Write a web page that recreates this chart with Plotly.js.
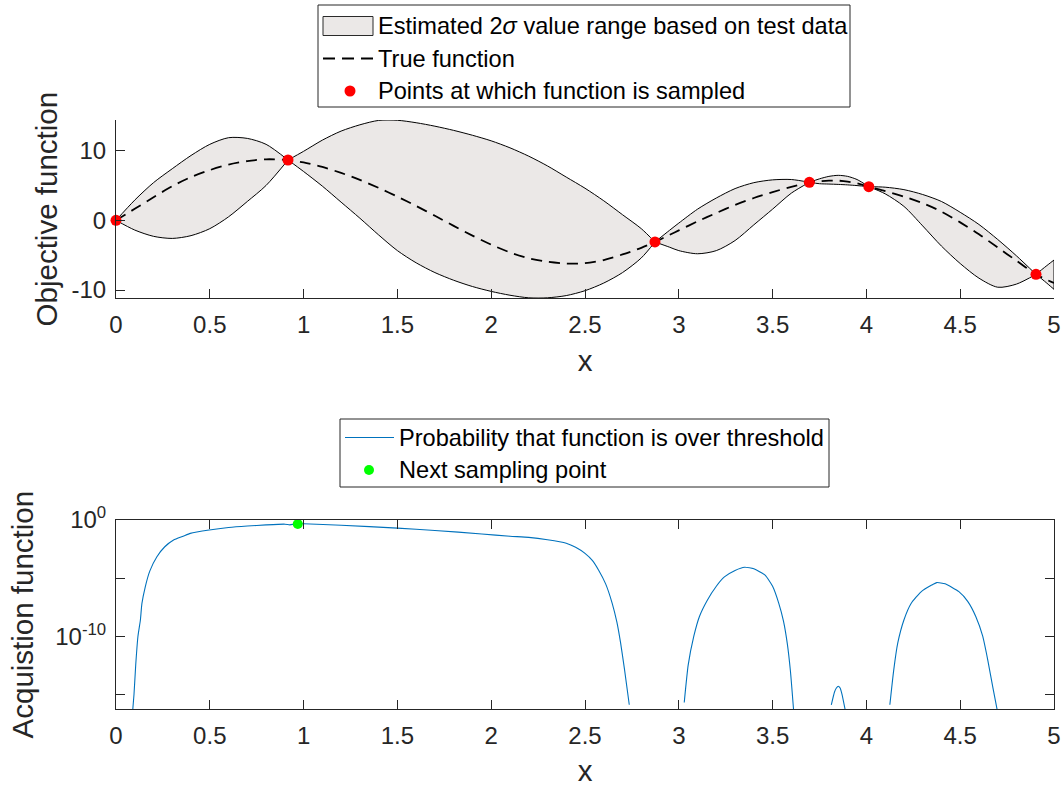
<!DOCTYPE html>
<html><head><meta charset="utf-8">
<script src="https://cdn.plot.ly/plotly-3.0.1.min.js"></script>
<style>html,body{margin:0;padding:0;background:#fff}#chart{width:1063px;height:787px}</style>
</head><body><div id="chart"></div>
<script>
// ---- top panel data ----
const sampleX = [0, 0.917, 2.873, 3.696, 4.013, 4.904];
const sampleY = [0, 8.65, -3.11, 5.45, 4.82, -7.75];

const bandX = [0, 0.1, 0.2, 0.3, 0.4, 0.5, 0.6, 0.7, 0.8, 0.917,
  1.0, 1.1, 1.2, 1.3, 1.4, 1.5, 1.6, 1.7, 1.8, 1.9, 2.0, 2.1, 2.2, 2.3, 2.4, 2.5, 2.6, 2.7, 2.8, 2.873,
  2.95, 3.0, 3.1, 3.2, 3.3, 3.4, 3.5, 3.6, 3.696,
  3.75, 3.8, 3.85, 3.9, 3.95, 4.013,
  4.1, 4.2, 4.3, 4.4, 4.5, 4.6, 4.7, 4.8, 4.904,
  4.95, 5.0];
const bandUpper = [0, 2.9, 5.4, 7.4, 9.3, 10.9, 11.85, 11.75, 10.9, 8.65,
  9.9, 11.5, 12.8, 13.7, 14.33, 14.35, 14.0, 13.5, 12.9, 12.2, 11.4, 10.4, 9.2, 7.8, 6.2, 4.6, 2.8, 0.8, -1.2, -3.11,
  -1.45, -0.4, 1.6, 3.2, 4.55, 5.4, 5.8, 5.85, 5.45,
  5.95, 6.3, 6.45, 6.3, 5.85, 4.82,
  4.75, 4.4, 3.7, 2.7, 1.15, -0.6, -2.75, -5.1, -7.75,
  -6.75, -5.7];
const bandLower = [0, -1.4, -2.3, -2.6, -2.2, -1.2, 0.5, 2.7, 5.0, 8.65,
  7.0, 4.9, 2.6, 0.3, -2.1, -4.35, -6.1, -7.5, -8.6, -9.5, -10.2, -10.75, -11.12, -11.12, -10.8, -10.1, -9.0, -7.5, -5.4, -3.11,
  -3.85, -4.35, -4.8, -4.35, -2.9, -0.65, 1.6, 3.9, 5.45,
  5.25, 5.2, 5.15, 5.08, 4.98, 4.82,
  3.8, 2.0, -0.8, -3.7, -6.2, -8.3, -9.6, -9.15, -7.75,
  -8.75, -9.9];
const trueY = [0, 1.65, 3.3, 4.9, 6.2, 7.2, 8.0, 8.5, 8.75, 8.65,
  8.3, 7.65, 6.8, 5.8, 4.65, 3.4, 2.05, 0.65, -0.8, -2.2, -3.5, -4.6, -5.45, -5.95, -6.2, -6.15, -5.7, -4.9, -3.95, -3.11,
  -2.1, -1.45, -0.15, 1.05, 2.2, 3.2, 4.05, 4.8, 5.45,
  5.6, 5.68, 5.69, 5.55, 5.3, 4.82,
  4.2, 3.4, 2.45, 1.25, -0.3, -2.0, -3.9, -5.8, -7.75,
  -8.4, -9.0];

// ---- bottom panel data (null = gap where the probability is zero) ----
const acqX = [0.086, 0.096, 0.105, 0.117, 0.13, 0.138, 0.156, 0.18, 0.218, 0.26, 0.307, 0.358, 0.396, 0.497,
  0.6, 0.7, 0.8, 0.9, 0.927, 0.95, 0.969, 1.0, 1.2, 1.5, 1.7, 1.95, 2.1, 2.2, 2.3, 2.4, 2.45, 2.5, 2.54, 2.572,
  2.61, 2.645, 2.67, 2.69, 2.71, 2.736, null,
  3.029, 3.05, 3.08, 3.11, 3.152, 3.2, 3.243, 3.3, 3.351, 3.4, 3.46, 3.5, 3.533, 3.558, 3.578, 3.595, 3.615, null,
  3.813, 3.83, 3.84, 3.85, 3.86, 3.87, 3.895, null,
  4.125, 4.145, 4.167, 4.2, 4.239, 4.29, 4.348, 4.375, 4.42, 4.493, 4.54, 4.583, 4.62, 4.647, 4.675, 4.705];
const acqY = [1e-17, 1e-15, 3.2e-13, 1e-10, 2.5e-9, 6.3e-8, 1.8e-6, 4e-5, 6.9e-4, 5e-3, 0.019, 0.04, 0.071, 0.138,
  0.224, 0.302, 0.38, 0.437, 0.38, 0.437, 0.468, 0.479, 0.355, 0.2, 0.126, 0.063, 0.04, 0.032, 0.02, 0.01, 4.5e-3, 1.35e-3, 3.2e-4, 5e-5,
  3.2e-6, 6.8e-8, 1.6e-9, 2.5e-11, 1.6e-13, 1.26e-16, null,
  2e-16, 3.2e-13, 1e-10, 5e-9, 1.26e-7, 2e-6, 1.26e-5, 4.5e-5, 8.5e-5, 6.3e-5, 1.8e-5, 2e-6, 6.8e-8, 2e-9, 2.5e-11, 1e-13, 1e-17, null,
  1.26e-16, 1.6e-15, 3.5e-15, 5e-15, 3.5e-15, 1e-15, 1e-17, null,
  1.26e-16, 1e-13, 2.5e-11, 2.5e-9, 6.8e-8, 6.3e-7, 2.5e-6, 4.1e-6, 3.2e-6, 6.8e-7, 1e-7, 5e-9, 1e-10, 8.9e-13, 3.2e-15, 1e-17];
const nextX = [0.969];
const nextY = [0.457];

const yTickVals = [-10, 0, 10];
const yTickText = ['-10', '0', '10'];
const xTickVals = [0, 0.5, 1, 1.5, 2, 2.5, 3, 3.5, 4, 4.5, 5];
const xTickText = ['0', '0.5', '1', '1.5', '2', '2.5', '3', '3.5', '4', '4.5', '5'];
const logTickVals = [1e-10, 1];
const logTickText = ['10<sup>-10</sup>', '10<sup>0</sup>'];
const logMinorVals = [1e-15, 1e-5];

const legendTop = ['Estimated 2<i>σ</i> value range based on test data', 'True function', 'Points at which function is sampled'];
const legendBottom = ['Probability that function is over threshold', 'Next sampling point'];

// ---- styles ----
const FONT = 'Liberation Sans, Arial, Helvetica, sans-serif';
const AX = '#262626';
const FILL = '#ebe8e7';
const BLUE = '#0072BD';

const traces = [];
// band: one lens per interval between sampled points
for (let s = 0; s < sampleX.length; s++) {
  const x0 = sampleX[s];
  const x1 = s + 1 < sampleX.length ? sampleX[s + 1] : Infinity;
  const idx = [];
  bandX.forEach((x, i) => { if (x >= x0 - 1e-9 && x <= x1 + 1e-9) idx.push(i); });
  if (idx.length < 2) continue;
  const xs = idx.map(i => bandX[i]);
  traces.push({x: xs, y: idx.map(i => bandLower[i]), xaxis: 'x', yaxis: 'y', mode: 'lines',
    line: {color: '#000', width: 1, shape: 'spline', smoothing: 0.8}, showlegend: false, hoverinfo: 'skip'});
  traces.push({x: xs, y: idx.map(i => bandUpper[i]), xaxis: 'x', yaxis: 'y', mode: 'lines',
    fill: 'tonexty', fillcolor: FILL, name: legendTop[0],
    line: {color: '#000', width: 1, shape: 'spline', smoothing: 0.8}, showlegend: false, hoverinfo: 'skip'});
}
const last = bandX.length - 1;
traces.push({x: [bandX[last], bandX[last]], y: [bandLower[last], bandUpper[last]], xaxis: 'x', yaxis: 'y',
  mode: 'lines', line: {color: '#000', width: 1}, showlegend: false, hoverinfo: 'skip'});
traces.push({x: bandX, y: trueY, xaxis: 'x', yaxis: 'y', mode: 'lines', name: legendTop[1], showlegend: false,
  line: {color: '#000', width: 1.8, dash: '11px,7px', shape: 'spline', smoothing: 0.8}});
traces.push({x: sampleX, y: sampleY, xaxis: 'x', yaxis: 'y', mode: 'markers', name: legendTop[2], showlegend: false,
  cliponaxis: false, marker: {color: '#ff0000', size: 11}});

traces.push({x: acqX, y: acqY, xaxis: 'x2', yaxis: 'y2', mode: 'lines', connectgaps: false,
  name: legendBottom[0], showlegend: false,
  line: {color: BLUE, width: 1.1, shape: 'spline', smoothing: 0.5}});
traces.push({x: nextX, y: nextY, xaxis: 'x2', yaxis: 'y2', mode: 'markers',
  name: legendBottom[1], showlegend: false, cliponaxis: false, marker: {color: '#00ff00', size: 10}});

const W = 1063, H = 787, L = 116, R = 9;
const pw = W - L - R;
const fx = p => (p - L) / pw;
const fy = p => 1 - p / H;

const axisCommon = {
  showline: true, linecolor: AX, linewidth: 1, ticks: 'inside', ticklen: 9, tickcolor: AX, tickwidth: 1,
  showgrid: false, zeroline: false, tickfont: {family: FONT, size: 24, color: AX}
};
const titleFont = {family: FONT, size: 29.5, color: AX};

// ---- legend boxes drawn in pixel positions ----
const shapes = [];
const annotations = [];
function rectPx(x0, y0, x1, y1, fill, lineColor, lw) {
  shapes.push({type: 'rect', xref: 'paper', yref: 'paper', x0: fx(x0), x1: fx(x1), y0: fy(y1), y1: fy(y0),
    fillcolor: fill, line: {color: lineColor, width: lw}, layer: 'above'});
}
function textPx(x, y, t) {
  annotations.push({xref: 'paper', yref: 'paper', x: fx(x), y: fy(y), xanchor: 'left', yanchor: 'middle',
    text: t, showarrow: false, font: {family: FONT, size: 23.6, color: '#000'}});
}
const topRows = [26, 58.5, 91];
rectPx(318, 5, 850, 107, '#ffffff', AX, 1);
rectPx(323, topRows[0] - 9.5, 373, topRows[0] + 9.5, FILL, '#2a2a2a', 1);
shapes.push({type: 'line', xref: 'paper', yref: 'paper', x0: fx(323), x1: fx(373), y0: fy(topRows[1]), y1: fy(topRows[1]),
  line: {color: '#000', width: 1.8, dash: '12px,7px'}, layer: 'above'});
shapes.push({type: 'circle', xref: 'paper', yref: 'paper', x0: fx(344.5), x1: fx(355.5), y0: fy(topRows[2] + 5.5), y1: fy(topRows[2] - 5.5),
  fillcolor: '#ff0000', line: {width: 0}, layer: 'above'});
legendTop.forEach((t, i) => textPx(376, topRows[i], t));

const botRows = [437.5, 470];
rectPx(340, 419, 829, 487, '#ffffff', AX, 1);
shapes.push({type: 'line', xref: 'paper', yref: 'paper', x0: fx(345), x1: fx(394), y0: fy(botRows[0]), y1: fy(botRows[0]),
  line: {color: BLUE, width: 1.1}, layer: 'above'});
shapes.push({type: 'circle', xref: 'paper', yref: 'paper', x0: fx(364), x1: fx(374), y0: fy(botRows[1] + 5), y1: fy(botRows[1] - 5),
  fillcolor: '#00ff00', line: {width: 0}, layer: 'above'});
legendBottom.forEach((t, i) => textPx(397, botRows[i], t));

const layout = {
  width: W, height: H, margin: {l: L, r: R, t: 0, b: 0},
  paper_bgcolor: '#fff', plot_bgcolor: '#fff',
  font: {family: FONT, color: AX},
  showlegend: false,
  xaxis: Object.assign({}, axisCommon, {domain: [0, 1], range: [0, 5], anchor: 'y',
    tickmode: 'array', tickvals: xTickVals, ticktext: xTickText, ticklabelstandoff: 5,
    title: {text: 'x', font: titleFont, standoff: 13}}),
  yaxis: Object.assign({}, axisCommon, {domain: [fy(298.3), fy(120)], range: [-11.19, 14.39], anchor: 'x',
    tickmode: 'array', tickvals: yTickVals, ticktext: yTickText, ticklabelstandoff: 4,
    title: {text: 'Objective function', font: titleFont, standoff: 5}}),
  xaxis2: Object.assign({}, axisCommon, {domain: [0, 1], range: [0, 5], anchor: 'y2', mirror: 'allticks',
    tickmode: 'array', tickvals: xTickVals, ticktext: xTickText, ticklabelstandoff: 5,
    title: {text: 'x', font: titleFont, standoff: 12}}),
  yaxis2: Object.assign({}, axisCommon, {domain: [fy(709.3), fy(520)], type: 'log', range: [-16.29, 0], anchor: 'x2',
    mirror: 'allticks', tickmode: 'array', tickvals: logTickVals, ticktext: logTickText, ticklabelstandoff: 4,
    minor: {tickmode: 'array', tickvals: logMinorVals, ticks: 'inside', ticklen: 9, tickcolor: AX, tickwidth: 1, showgrid: false},
    title: {text: 'Acquistion function', font: titleFont, standoff: 12}}),
  shapes: shapes,
  annotations: annotations
};

Plotly.newPlot('chart', traces, layout, {displayModeBar: false, staticPlot: true});
</script>
</body></html>
